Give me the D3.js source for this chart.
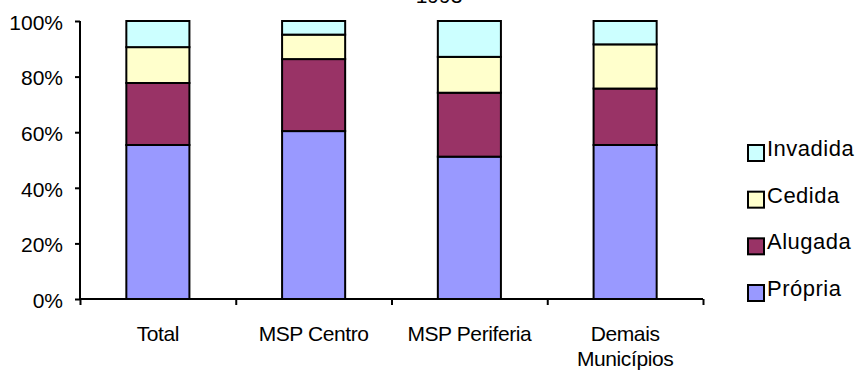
<!DOCTYPE html>
<html>
<head>
<meta charset="utf-8">
<script src="https://cdn.jsdelivr.net/npm/d3@7"></script>
<style>
  html, body { margin: 0; padding: 0; background: #fff; }
  svg { display: block; font-family: "Liberation Sans", Arial, sans-serif; }
</style>
</head>
<body>
<svg id="chart" width="863" height="373"></svg>
<script>
const title = "1993";
const categories = ["Total", "MSP Centro", "MSP Periferia", "Demais Municípios"];
const seriesNames = ["Própria", "Alugada", "Cedida", "Invadida"];
const propria  = [55.4, 60.4, 51.2, 55.4];
const alugada  = [22.3, 25.9, 23.0, 20.3];
const cedida   = [12.9,  8.8, 12.9, 15.9];
const invadida = [ 9.4,  4.9, 12.9,  8.4];
const yTicks = [0, 20, 40, 60, 80, 100];
const colors = ["#9999FF", "#993366", "#FFFFCC", "#CCFFFF"];

(function () {
const FONT = "Liberation Sans, Arial, sans-serif";
const seriesValues = [propria, alugada, cedida, invadida];
const rows = categories.map((c, i) => {
  const r = { cat: c };
  seriesNames.forEach((s, k) => r[s] = seriesValues[k][i]);
  return r;
});
rows.forEach(r => {
  const tot = d3.sum(seriesNames, s => r[s]);
  seriesNames.forEach(s => r[s] = r[s] / tot * 100);
});

const svg = d3.select("#chart");
const mLeft = 80, mRight = 703, mTop = 21, mBottom = 299;

const x = d3.scaleBand().domain(categories).range([mLeft, mRight])
  .paddingInner(0.595).paddingOuter(0.2975);
const xb = d3.scaleLinear().domain([0, categories.length]).range([mLeft, mRight]);
const y = d3.scaleLinear().domain([0, 100]).range([mBottom, mTop]);

const stack = d3.stack().keys(seriesNames)(rows);

svg.append("g").selectAll("g").data(stack).join("g")
  .attr("fill", (d, i) => colors[i])
  .selectAll("rect").data(d => d).join("rect")
  .attr("x", d => x(d.data.cat))
  .attr("width", x.bandwidth())
  .attr("y", d => y(d[1]))
  .attr("height", d => y(d[0]) - y(d[1]))
  .attr("stroke", "#000")
  .attr("stroke-width", 2);

const yAxis = svg.append("g").attr("transform", `translate(${mLeft},0)`)
  .call(d3.axisLeft(y).tickValues(yTicks).tickFormat(d => d + "%").tickSize(5).tickPadding(12));
yAxis.select(".domain").attr("stroke", "#000").attr("stroke-width", 2).attr("d", `M0,${mTop}V${mBottom}`);
yAxis.selectAll(".tick line").attr("stroke", "#000").attr("stroke-width", 2);
yAxis.selectAll("text").attr("font-size", 21).attr("fill", "#000").attr("y", 1.5)
  .attr("font-family", FONT);

const xAxis = svg.append("g").attr("transform", `translate(0,${mBottom})`)
  .call(d3.axisBottom(xb).tickValues(d3.range(categories.length + 1)).tickFormat("").tickSize(6));
xAxis.select(".domain").attr("stroke", "#000").attr("stroke-width", 2).attr("d", `M${mLeft},0H${mRight}`);
xAxis.selectAll(".tick line").attr("stroke", "#000").attr("stroke-width", 2);

const labels = svg.append("g").attr("transform", `translate(0,${mBottom})`)
  .call(d3.axisBottom(x).tickSize(0).tickPadding(0));
labels.select(".domain").remove();
labels.selectAll("text").each(function(d) {
  const t = d3.select(this);
  t.text(null).attr("y", 0).attr("dy", 0)
    .attr("font-size", 21).attr("fill", "#000").attr("letter-spacing", -0.4)
    .attr("font-family", FONT);
  const parts = d === "Demais Municípios" ? ["Demais", "Municípios"] : [d];
  parts.forEach((p, i) => t.append("tspan").attr("x", 0).attr("y", 42 + i * 25).text(p));
});

svg.append("text").attr("x", 439).attr("y", 3).attr("text-anchor", "middle")
  .attr("font-size", 21).attr("font-family", FONT).text(title);

const legendOrder = seriesNames.map((s, i) => ({ s, c: colors[i] })).reverse();
const lg = svg.append("g");
const ly = d3.scalePoint().domain(legendOrder.map(d => d.s)).range([156, 296]);
legendOrder.forEach(d => {
  lg.append("rect").attr("x", 748).attr("y", ly(d.s) - 11).attr("width", 16).attr("height", 16)
    .attr("fill", d.c).attr("stroke", "#000").attr("stroke-width", 2);
  lg.append("text").attr("x", 767).attr("y", ly(d.s)).attr("font-size", 22)
    .attr("letter-spacing", 0.5).attr("font-family", FONT)
    .attr("fill", "#000").text(d.s);
});
})();
</script>
</body>
</html>
